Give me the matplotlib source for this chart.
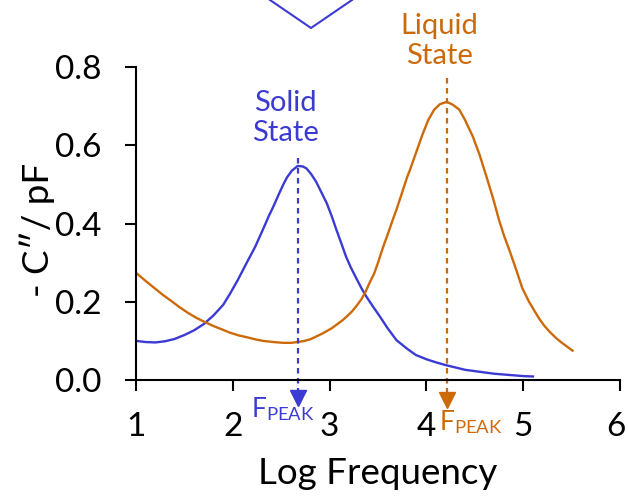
import matplotlib
matplotlib.use("Agg")
import matplotlib.pyplot as plt
import matplotlib.transforms as mtransforms
from matplotlib.lines import Line2D

plt.rcParams['font.family'] = ['Lato', 'DejaVu Sans']
plt.rcParams['mathtext.fontset'] = 'custom'
plt.rcParams['mathtext.rm'] = 'Lato'
plt.rcParams['mathtext.it'] = 'Lato:italic'
plt.rcParams['mathtext.bf'] = 'Lato:bold'

# solid state curve (log f, -C'')
solid_x = [1.00, 1.10, 1.20, 1.30, 1.40, 1.50, 1.60, 1.70, 1.80, 1.90, 1.97, 2.05,
           2.14, 2.23, 2.31, 2.37, 2.42, 2.47, 2.52, 2.56, 2.61, 2.67, 2.72, 2.76,
           2.81, 2.86, 2.91, 2.97, 3.02, 3.07, 3.12, 3.17, 3.22, 3.28, 3.33, 3.38,
           3.45, 3.52, 3.60, 3.69, 3.80, 3.89, 4.00, 4.10, 4.20, 4.30, 4.40, 4.55,
           4.70, 4.85, 5.00, 5.10]
solid_y = [0.100, 0.097, 0.096, 0.099, 0.105, 0.115, 0.127, 0.143, 0.165, 0.192, 0.220, 0.255,
           0.298, 0.340, 0.384, 0.418, 0.444, 0.472, 0.499, 0.518, 0.535, 0.547, 0.546, 0.541,
           0.526, 0.507, 0.482, 0.452, 0.420, 0.384, 0.350, 0.315, 0.287, 0.258, 0.234, 0.213,
           0.187, 0.162, 0.132, 0.102, 0.080, 0.064, 0.053, 0.045, 0.038, 0.032, 0.026, 0.021,
           0.016, 0.013, 0.010, 0.009]

# liquid state curve
liquid_x = [1.00, 1.10, 1.20, 1.28, 1.37, 1.45, 1.54, 1.63, 1.72, 1.80, 1.89, 1.97,
            2.06, 2.15, 2.23, 2.31, 2.42, 2.52, 2.60, 2.67, 2.74, 2.80, 2.86, 2.92,
            2.97, 3.02, 3.07, 3.13, 3.18, 3.23, 3.28, 3.33, 3.37, 3.41, 3.46, 3.50,
            3.55, 3.60, 3.65, 3.69, 3.75, 3.80, 3.83, 3.88, 3.92, 3.96, 4.02, 4.08,
            4.14, 4.21, 4.27, 4.34, 4.40, 4.48, 4.55, 4.62, 4.69, 4.75, 4.80, 4.86,
            4.93, 4.99, 5.06, 5.12, 5.17, 5.22, 5.27, 5.34, 5.40, 5.46, 5.51]
liquid_y = [0.274, 0.253, 0.233, 0.217, 0.201, 0.186, 0.171, 0.158, 0.147, 0.138, 0.129, 0.121,
            0.114, 0.109, 0.104, 0.100, 0.097, 0.095, 0.095, 0.097, 0.100, 0.104, 0.111, 0.118,
            0.125, 0.132, 0.141, 0.152, 0.163, 0.175, 0.190, 0.207, 0.225, 0.247, 0.272, 0.300,
            0.338, 0.372, 0.408, 0.435, 0.480, 0.518, 0.537, 0.572, 0.600, 0.628, 0.665, 0.691,
            0.705, 0.711, 0.704, 0.691, 0.664, 0.622, 0.575, 0.520, 0.463, 0.409, 0.370, 0.330,
            0.280, 0.235, 0.200, 0.175, 0.155, 0.138, 0.124, 0.107, 0.095, 0.084, 0.075]

solid_peak = 2.67
liquid_peak = 4.21

blue = '#3b3bd4'
orange = '#cc6a0a'

fig = plt.figure(figsize=(6.28, 5.0), dpi=100)
ax = fig.add_axes([0.2166, 0.24, 0.7707, 0.626])

ax.plot(solid_x, solid_y, color=blue, lw=1.7)
ax.plot(liquid_x, liquid_y, color=orange, lw=1.7)

# dashed peak markers with arrow heads below the axis
ax.plot([solid_peak, solid_peak], [0.568, -0.05], color=blue, lw=1.6,
        ls=(0, (2.5, 2)), clip_on=False)
ax.plot([solid_peak], [-0.047], marker='v', ms=11.5, color=blue, clip_on=False)
ax.plot([liquid_peak, liquid_peak], [0.772, -0.05], color=orange, lw=1.6,
        ls=(0, (2.5, 2)), clip_on=False)
ax.plot([liquid_peak], [-0.051], marker='v', ms=11.5, color=orange, clip_on=False)

ax.text(2.54, 0.67, 'Solid\nState', color=blue, fontsize=21, ha='center', va='center',
        linespacing=1.2)
ax.text(4.13, 0.867, 'Liquid\nState', color=orange, fontsize=21, ha='center', va='center',
        linespacing=1.2, clip_on=False)
ax.text(2.52, -0.095, r'F$_{\mathregular{PEAK}}$', color=blue, fontsize=19,
        ha='center', va='baseline')
ax.text(4.46, -0.128, r'F$_{\mathregular{PEAK}}$', color=orange, fontsize=19,
        ha='center', va='baseline')

# piece of an arrow at the top edge
fig.add_artist(Line2D([270 / 628, 311 / 628, 352 / 628], [1.0, 1 - 28 / 500, 1.0],
                      color=blue, lw=1.5))

ax.set_xlim(1, 6)
ax.set_ylim(0, 0.8)
ax.set_xticks([1, 2, 3, 4, 5, 6])
ax.set_yticks([0.0, 0.2, 0.4, 0.6, 0.8])
ax.set_yticklabels(['0.0', '0.2', '0.4', '0.6', '0.8'])
ax.tick_params(axis='both', labelsize=24, width=1.5, length=8, direction='out')
ax.tick_params(axis='x', pad=15)
ax.tick_params(axis='y', pad=17)

# keep the last x label inside the figure
last = ax.get_xticklabels()[-1]
last.set_transform(last.get_transform() +
                   mtransforms.ScaledTranslation(-3 / 72, 0, fig.dpi_scale_trans))

for side in ['top', 'right']:
    ax.spines[side].set_visible(False)
for side in ['left', 'bottom']:
    ax.spines[side].set_linewidth(1.5)

ax.set_xlabel('Log Frequency', fontsize=26.5)
ax.xaxis.set_label_coords(0.5, -0.245)
ax.set_ylabel('- C\u2033/ pF', fontsize=26.5)
ax.yaxis.set_label_coords(-0.168, 0.48)

fig.savefig('out.png', dpi=100)
